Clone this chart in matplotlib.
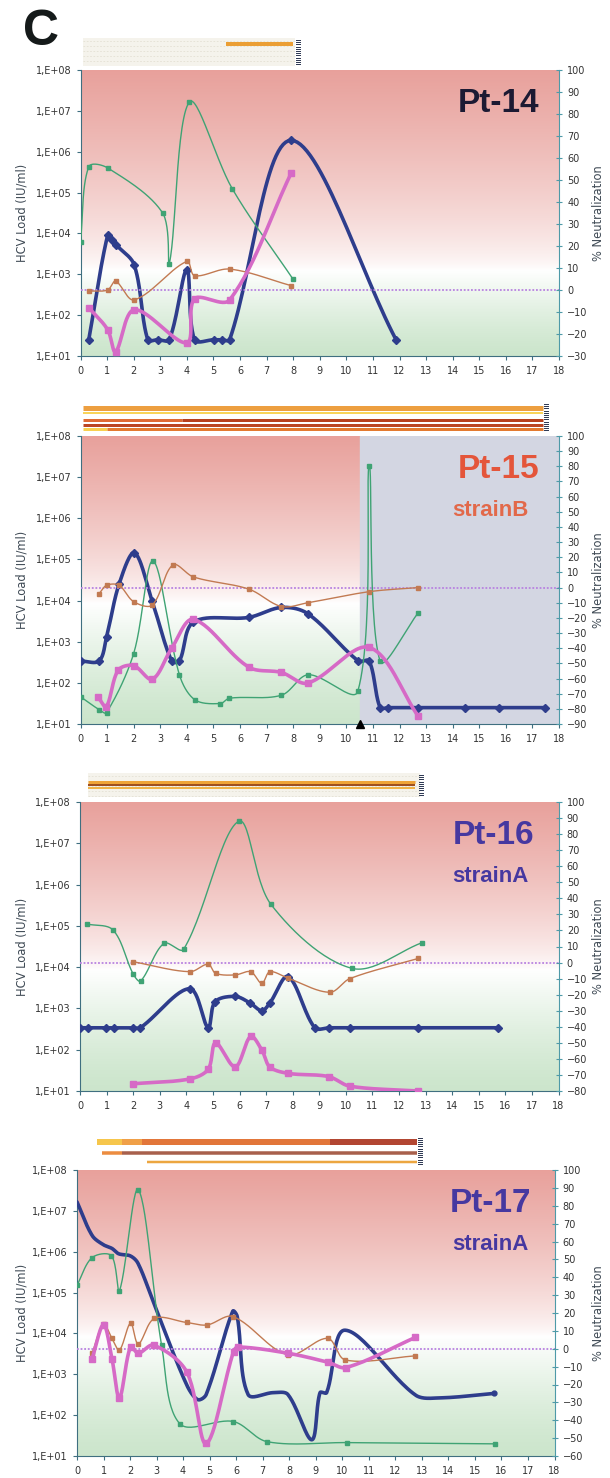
import numpy as np
import matplotlib.pyplot as plt

# ---------------------------------------------------------------- data
# Pt-14
p14_blue_x = [0.31, 1.02, 1.2, 1.35, 2.02, 2.53, 2.9, 3.34, 4.0, 4.29, 5.02, 5.31, 5.61, 7.92, 11.87]
p14_blue_y = [25, 9000, 6900, 5200, 1700, 25, 25, 25, 1300, 25, 25, 25, 25, 1.9e6, 25]
p14_pink_x = [0.31, 1.02, 1.32, 2.02, 4.0, 4.29, 5.61, 7.92]
p14_pink_y = [-8, -18, -28, -9, -24, -4, -4.5, 53]
p14_brown_x = [0.31, 1.02, 1.32, 2.02, 4.0, 4.29, 5.61, 7.92]
p14_brown_y = [-0.5, 0, 4, -4.5, 13, 6.5, 9.5, 2]
p14_green_x = [0, 0.31, 1.02, 3.09, 3.34, 4.1, 5.71, 7.99]
p14_green_y = [22, 56, 55.5, 35, 12, 85.5, 46, 5]

# Pt-15
p15_blue_x = [0, 0.7, 0.98, 1.45, 2.03, 2.7, 3.43, 3.72, 4.25, 6.33, 7.56, 8.55,
              10.45, 10.86, 11.27, 11.58, 12.71, 14.45, 15.73, 17.46]
p15_blue_y = [340, 340, 1300, 2.5e4, 1.45e5, 9.5e3, 340, 340, 3.0e3, 3.9e3, 6.8e3, 4.8e3,
              340, 340, 25, 25, 25, 25, 25, 25]
p15_pink_x = [0.67, 0.97, 1.42, 2.0, 2.7, 3.43, 4.25, 6.33, 7.56, 8.55, 10.86, 12.71]
p15_pink_y = [-72.5, -78.5, -54.5, -51.5, -60.5, -40, -21, -52.5, -56, -63, -39.5, -85]
p15_brown_x = [0.7, 0.98, 1.45, 2.0, 2.7, 3.48, 4.25, 6.33, 7.56, 8.55, 10.86, 12.71]
p15_brown_y = [-4, 1.5, 1.5, -9.3, -11.5, 15, 7, -1, -12.5, -10, -2.7, 0]
p15_green_x = [0, 0.7, 0.98, 2.0, 2.73, 3.72, 4.3, 5.26, 5.6, 7.56, 8.57, 10.43, 10.86, 11.27, 12.71]
p15_green_y = [-72, -80.5, -82.5, -43.5, 17.5, -57.5, -74, -76.5, -73, -71, -57.5, -68.5, 80.5, -48.5, -16.5]

# Pt-16
p16_blue_x = [0, 0.29, 0.98, 1.27, 2.0, 2.27, 4.13, 4.82, 5.08, 5.84, 6.4, 6.84, 7.14, 7.83,
              8.83, 9.38, 10.15, 12.73, 15.72]
p16_blue_y = [340, 340, 340, 340, 340, 340, 3.0e3, 340, 1.45e3, 1.95e3, 1.35e3, 880, 1.35e3, 5.9e3,
              340, 340, 340, 340, 340]
p16_pink_x = [2.0, 4.13, 4.82, 5.1, 5.84, 6.42, 6.84, 7.14, 7.83, 9.35, 10.15, 12.73]
p16_pink_y = [-75.5, -72.5, -66.5, -50, -65, -46, -54.5, -65, -69, -71, -77, -80]
p16_brown_x = [2.0, 4.13, 4.82, 5.1, 5.84, 6.42, 6.84, 7.14, 7.83, 9.4, 10.15, 12.73]
p16_brown_y = [0.5, -5.7, -1, -6.7, -7.7, -5.7, -13, -5.7, -9.8, -18.5, -10, 2.6]
p16_green_x = [0.25, 1.24, 2.0, 2.28, 3.16, 3.9, 5.97, 7.18, 10.23, 12.87]
p16_green_y = [24, 20.3, -7.1, -11.5, 12, 8.3, 88, 36.3, -3.6, 12.4]

# Pt-17
p17_blue_x = [0, 0.57, 0.98, 1.32, 1.57, 2.01, 2.3, 2.89, 4.13, 4.55, 4.87, 5.87, 6.04, 6.45,
              7.4, 7.95, 8.85, 9.16, 9.41, 10.1, 12.76, 13.7, 15.72]
p17_blue_y = [1.66e7, 2.5e6, 1.5e6, 1.2e6, 8.9e5, 7.9e5, 5.2e5, 5.6e4, 560, 240, 320, 3.5e4, 2.6e4, 320,
              355, 320, 25, 355, 355, 1.2e4, 310, 265, 340]
p17_pink_x = [0.57, 1.0, 1.32, 1.6, 2.02, 2.31, 2.89, 4.13, 4.87, 5.9, 6.07, 7.95, 9.45, 10.15, 12.75]
p17_pink_y = [-5.5, 13.5, -5.8, -27.5, 1.2, -2.5, 2.0, -12.8, -53, -1.6, 1.0, -2.5, -7.5, -10.5, 6.3]
p17_brown_x = [0.57, 1.0, 1.32, 1.6, 2.02, 2.31, 2.92, 4.13, 4.9, 5.88, 7.95, 9.45, 10.12, 12.75]
p17_brown_y = [-2.5, 13.8, 5.8, -0.7, 14.3, 2.7, 17, 14.7, 13.3, 18, -3.4, 5.8, -6.3, -4]
p17_green_x = [0, 0.57, 1.3, 1.6, 2.31, 3.19, 3.88, 5.89, 7.17, 10.16, 15.74]
p17_green_y = [35.5, 51, 52, 32.5, 89, 2, -42, -40.7, -52, -52.5, -53.2]

# therapy strips above each panel: (x0, x1, colour) per lane
p14_strip = [[(5.46, 7.99, "#eb9e34")]]
p15_strip = [[(0.1, 17.4, "#ed9f40")],
             [(0.1, 17.4, "#f9d45a")],
             [(0.1, 3.8, "#e06a34"), (3.8, 17.4, "#b8401e")],
             [(0.1, 17.4, "#bb4624")],
             [(0.1, 1.0, "#f8d050"), (1.0, 17.4, "#e37a30")]]
p16_strip = [[(0.3, 12.6, "#efa438")],
             [(0.3, 12.6, "#a0501f")],
             [(0.3, 12.6, "#f1b44a")]]
p17_strip = [[(0.74, 1.68, "#f6c64c"), (1.68, 2.44, "#f0a048"), (2.44, 9.54, "#e2763a"), (9.54, 12.8, "#b24632")],
             [(0.93, 1.68, "#ec8c40"), (1.68, 12.8, "#a8604c")],
             [(2.65, 12.8, "#eca640")]]

# ---------------------------------------------------------------- style
W, H = 610, 1478
BLUE = "#2e3d8c"
PINK = "#d66ac6"
BROWN = "#c27a52"
GREEN = "#3fa374"
ZERO = "#b882e0"
SPINE = "#3f6f80"
RSPINE = "#4e9aa8"
TICKC = "#333333"
NAVY = "#2a3550"


def smooth(x, y, kx, ky, n=30):
    """Excel-like smoothed line: chord-weighted Bezier through the points.
    kx, ky: pixels per data unit, so segment lengths are measured on screen."""
    p = np.column_stack([x, y]).astype(float)
    q = p * [kx, ky]
    d = np.hypot(*np.diff(q, axis=0).T)
    out = [p[:1]]
    m = len(p)
    for i in range(m - 1):
        p1, p2 = p[i], p[i + 1]
        if i > 0:
            c1 = p1 + (p2 - p[i - 1]) * d[i] / (d[i - 1] + d[i]) / 3
        else:
            c1 = p1 + (p2 - p1) / 3
        if i + 2 < m:
            c2 = p2 - (p[i + 2] - p1) * d[i] / (d[i] + d[i + 1]) / 3
        else:
            c2 = p2 - (p2 - p1) / 3
        t = np.linspace(0, 1, n)[1:, None]
        out.append((1 - t) ** 3 * p1 + 3 * (1 - t) ** 2 * t * c1
                   + 3 * (1 - t) * t ** 2 * c2 + t ** 3 * p2)
    s = np.vstack(out)
    return s[:, 0], s[:, 1]


def gradient(center):
    green = np.array([0.80, 0.90, 0.80])
    white = np.array([1.0, 1.0, 1.0])
    pink = np.array([0.91, 0.63, 0.61])
    v = np.linspace(0, 1, 300)
    rows = []
    for t in v:
        if t < center:
            f = (t / center) ** 1.3
            rows.append(green + (white - green) * f)
        else:
            f = ((t - center) / (1 - center)) ** 0.7
            rows.append(white + (pink - white) * f)
    return np.array(rows)[::-1, None, :]


def px_rect(l, r, t, b):
    return [l / W, 1 - b / H, (r - l) / W, (b - t) / H]


fig = plt.figure(figsize=(W / 100, H / 100), dpi=100)
fig.patch.set_facecolor("white")

panels = [
    dict(geo=(80.5, 559, 70, 356), rlim=(-30, 100), center=0.30, grey=None,
         blue=(p14_blue_x, p14_blue_y), pink=(p14_pink_x, p14_pink_y),
         brown=(p14_brown_x, p14_brown_y), green=(p14_green_x, p14_green_y),
         strip=p14_strip, strip_box=(0.1, 8.07, 38, 66), lanes=[(44, 4)], stripe=8.1,
         title="Pt-14", tcol="#1c1a33", tx=539, sub=None, blue_markers=True),
    dict(geo=(80.5, 559, 436, 724), rlim=(-90, 100), center=0.42, grey=10.5,
         blue=(p15_blue_x, p15_blue_y), pink=(p15_pink_x, p15_pink_y),
         brown=(p15_brown_x, p15_brown_y), green=(p15_green_x, p15_green_y),
         strip=p15_strip, strip_box=None,
         lanes=[(408, 5), (413, 2), (420, 3), (424.5, 3), (428.5, 3)], stripe=17.45,
         title="Pt-15", tcol="#e4553a", tx=539, sub="strainB", scol="#e2694a", blue_markers=True),
    dict(geo=(80, 558.5, 802, 1091), rlim=(-80, 100), center=0.42, grey=None,
         blue=(p16_blue_x, p16_blue_y), pink=(p16_pink_x, p16_pink_y),
         brown=(p16_brown_x, p16_brown_y), green=(p16_green_x, p16_green_y),
         strip=p16_strip, strip_box=(0.3, 12.8, 773, 797), lanes=[(782, 3), (785, 2), (788, 2)],
         stripe=12.75, title="Pt-16", tcol="#4638a0", tx=534, sub="strainA", scol="#4638a0",
         blue_markers=True),
    dict(geo=(77, 554.5, 1170, 1456), rlim=(-60, 100), center=0.42, grey=None,
         blue=(p17_blue_x, p17_blue_y), pink=(p17_pink_x, p17_pink_y),
         brown=(p17_brown_x, p17_brown_y), green=(p17_green_x, p17_green_y),
         strip=p17_strip, strip_box=None, lanes=[(1141.5, 6), (1153, 3.5), (1162, 2.5)],
         stripe=12.85, title="Pt-17", tcol="#4638a0", tx=531, sub="strainA", scol="#4638a0",
         blue_markers=False),
]

for k, P in enumerate(panels):
    l, r, t, b = P["geo"]
    pos = px_rect(l, r, t, b)
    kx = (r - l) / 18.0
    klog = (b - t) / 7.0
    kpct = (b - t) / float(P["rlim"][1] - P["rlim"][0])

    # background gradient (and grey post-therapy zone)
    bg = fig.add_axes(pos, zorder=0)
    bg.imshow(gradient(P["center"]), aspect="auto", extent=[0, 18, 0, 1])
    if P["grey"] is not None:
        bg.axvspan(P["grey"], 18, color="#d3d6e2", zorder=2)
    bg.set_xlim(0, 18)
    bg.set_ylim(0, 1)
    bg.axis("off")

    ax = fig.add_axes(pos, zorder=1)
    ax.patch.set_alpha(0)
    ax.set_yscale("log")
    ax.set_xlim(0, 18)
    ax.set_ylim(1e1, 1e8)
    ax.set_xticks(range(0, 19))
    ax.set_yticks([10.0 ** e for e in range(1, 9)])
    ax.set_yticklabels(["1,E+0%d" % e for e in range(1, 9)])
    ax.yaxis.set_minor_locator(plt.NullLocator())
    ax.tick_params(axis="both", labelsize=7, colors=TICKC, length=3, width=0.8)
    ax.tick_params(axis="x", pad=4)
    for sp in ("top", "right"):
        ax.spines[sp].set_visible(False)
    ax.spines["left"].set_color(SPINE)
    ax.spines["bottom"].set_color(SPINE)
    ax.tick_params(axis="both", color=SPINE)

    ax2 = ax.twinx()
    ax2.set_ylim(*P["rlim"])
    ax2.set_yticks(range(P["rlim"][0], 101, 10))
    ax2.tick_params(axis="y", labelsize=7, colors=TICKC, color=RSPINE,
                    direction="inout", length=5, width=0.8)
    for sp in ("top", "left", "bottom"):
        ax2.spines[sp].set_visible(False)
    ax2.spines["right"].set_color(RSPINE)
    ax2.set_xlim(0, 18)

    # zero-neutralization reference
    ax2.axhline(0, color=ZERO, lw=1.3, ls=(0, (1, 1)), zorder=1)

    gx, gy = P["green"]
    sx, sy = smooth(gx, gy, kx, kpct)
    ax2.plot(sx, sy, color=GREEN, lw=1.0, zorder=2)
    ax2.plot(gx, gy, ls="none", marker="s", ms=2.6, color=GREEN, zorder=2)

    bx, by = P["brown"]
    sx, sy = smooth(bx, by, kx, kpct)
    ax2.plot(sx, sy, color=BROWN, lw=1.0, zorder=3)
    ax2.plot(bx, by, ls="none", marker="s", ms=2.2, color=BROWN, zorder=3)

    vx, vy = P["blue"]
    sx, sy = smooth(vx, np.log10(vy), kx, klog)
    ax.plot(sx, 10 ** sy, color=BLUE, lw=2.6, zorder=4, solid_capstyle="round")
    if P["blue_markers"]:
        ax.plot(vx, vy, ls="none", marker="D", ms=4, color=BLUE, zorder=4)
    else:
        ax.plot(vx[-1:], vy[-1:], ls="none", marker="o", ms=3.5, color=BLUE, zorder=4)

    px_, py_ = P["pink"]
    sx, sy = smooth(px_, py_, kx, kpct)
    ax2.plot(sx, sy, color=PINK, lw=2.6, zorder=5, solid_capstyle="round")
    ax2.plot(px_, py_, ls="none", marker="s", ms=4.2, color=PINK, zorder=5)

    if P["grey"] is not None:
        ax.plot(P["grey"], 1e1, marker="^", ms=6, color="black", clip_on=False, zorder=6)

    # titles
    fig.text(P["tx"] / W, 1 - (t + 33) / H, P["title"],
             ha="right", va="center", fontsize=24, fontweight="bold",
             family="Liberation Sans", color=P["tcol"])
    if P["sub"]:
        fig.text(529 / W, 1 - (t + 74) / H, P["sub"], ha="right", va="center",
                 fontsize=16, fontweight="bold", family="Liberation Sans", color=P["scol"])

    # axis titles
    mid = (t + b) / 2
    fig.text(22 / W, 1 - mid / H, "HCV Load (IU/ml)", rotation=90, ha="center",
             va="center", fontsize=8.3, color="#3f4a55")
    fig.text(599 / W, 1 - mid / H, "% Neutralization", rotation=90, ha="center",
             va="center", fontsize=8.3, color="#3f4a55")

    # therapy strip
    lanes = P["lanes"]
    top_px = min(y for y, _ in lanes) - 8
    bot_px = max(y for y, _ in lanes) + 6
    if P["strip_box"] is not None:
        top_px = min(top_px, P["strip_box"][2])
        bot_px = max(bot_px, P["strip_box"][3])
    sa = fig.add_axes(px_rect(l, r, top_px, bot_px), zorder=1)
    sa.set_xlim(0, 18)
    sa.set_ylim(bot_px, top_px)
    sa.axis("off")
    if P["strip_box"] is not None:
        x0, x1, y0, y1 = P["strip_box"]
        sa.fill_between([x0, x1], y0, y1, color="#f5f3ec", lw=0)
        for yy in np.arange(y0 + 3, y1, 5):
            sa.plot([x0, x1], [yy, yy], color="#e4e0d4", lw=0.6, ls=(0, (2, 2)))
    for (ly, th), segs in zip(lanes, P["strip"]):
        for x0, x1, c in segs:
            sa.plot([x0, x1], [ly, ly], color=c, lw=th * 0.72, solid_capstyle="butt")
    st = P["stripe"]
    sy0 = min(y for y, _ in lanes) - 4
    sy1 = max(y for y, _ in lanes) + 4
    if P["strip_box"] is not None:
        sy0, sy1 = P["strip_box"][2] + 2, P["strip_box"][3] - 1
    for yy in np.arange(sy0, sy1, 2.2):
        sa.plot([st, st + 0.15], [yy, yy], color=NAVY, lw=0.7)

fig.text(41 / W, 1 - 32 / H, "C", ha="center", va="center", fontsize=36,
         fontweight="bold", family="Liberation Sans", color="#151a1a")

fig.savefig("out.png", dpi=100)
